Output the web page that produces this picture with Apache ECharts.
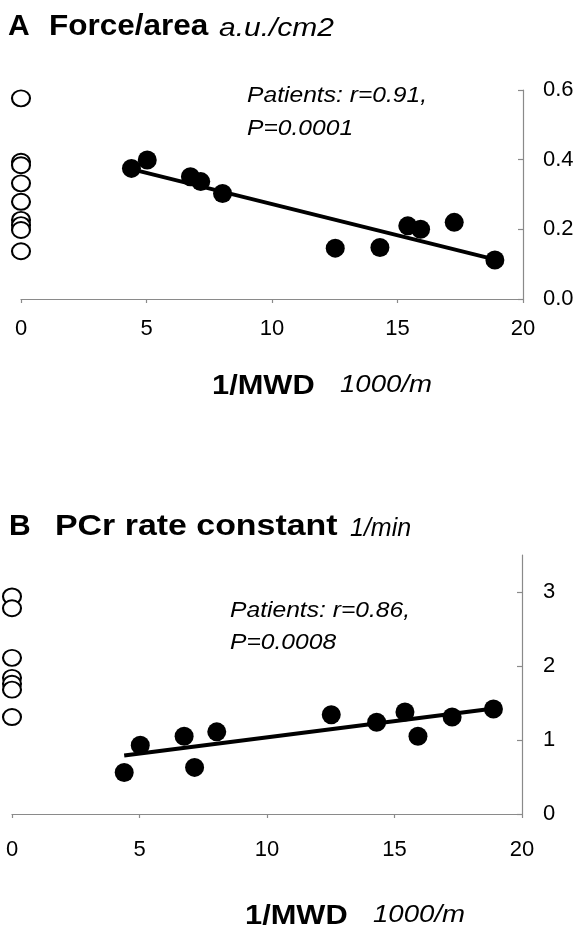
<!DOCTYPE html>
<html><head><meta charset="utf-8">
<script src="https://cdn.jsdelivr.net/npm/echarts@6/dist/echarts.min.js"></script>
<style>html,body{margin:0;padding:0;background:#fff}#c{width:582px;height:930px}</style>
</head><body><div id="c"></div>
<script>
// ---- Data ----
var xTicks = [0, 5, 10, 15, 20];
var yTicksA = [0, 0.2, 0.4, 0.6];
var yTicksB = [0, 1, 2, 3];
// Controls (plotted at x = 0)
var controlA = [0.576, 0.394, 0.384, 0.332, 0.279, 0.227, 0.212, 0.198, 0.137];
var controlB = [2.94, 2.78, 2.11, 1.84, 1.76, 1.68, 1.31];
// Patients: 1/MWD (1000/m)
var patientX = [4.4, 5.03, 6.75, 7.16, 8.03, 12.52, 14.3, 15.41, 15.92, 17.26, 18.88];
var forceArea = [0.375, 0.399, 0.351, 0.337, 0.303, 0.146, 0.148, 0.21, 0.200, 0.220, 0.112];
var pcrRate = [0.56, 0.93, 1.05, 0.63, 1.11, 1.34, 1.24, 1.38, 1.05, 1.31, 1.42];
// Regression lines (end points)
var fitAX = [4.4, 18.9], fitAY = [0.373, 0.113];
var fitBX = [4.4, 18.9], fitBY = [0.79, 1.425];

var FONT = "'Liberation Sans', Arial, sans-serif";
function zip(xs, ys) { return xs.map(function (x, i) { return [x, ys[i]]; }); }
function zeros(ys) { return ys.map(function (y) { return [0, y]; }); }

var axisLineStyle = { color: '#8a8a8a', width: 1.2 };
function xAxis(gi, margin) {
  return {
    type: 'value', gridIndex: gi, min: 0, max: 20, interval: 5,
    axisLine: { show: true, onZero: false, lineStyle: axisLineStyle },
    axisTick: { show: true, inside: false, length: 4, lineStyle: axisLineStyle },
    axisLabel: { color: '#000', fontSize: 22, fontFamily: FONT, margin: margin, customValues: xTicks },
    splitLine: { show: false }
  };
}
function yAxis(gi, max, ticks, fmt, margin) {
  return {
    type: 'value', gridIndex: gi, position: 'right', min: 0, max: max,
    axisLine: { show: true, onZero: false, lineStyle: axisLineStyle },
    axisTick: { show: true, inside: true, length: 5, lineStyle: axisLineStyle, customValues: ticks },
    axisLabel: { color: '#000', fontSize: 22, fontFamily: FONT, margin: margin, customValues: ticks, formatter: fmt },
    splitLine: { show: false }
  };
}
function txt(x, y, s, size, weight, style, sx) {
  return {
    type: 'text', x: x, y: y, scaleX: sx || 1, z: 10,
    style: {
      text: s, fill: '#000', textVerticalAlign: 'middle', textAlign: 'left',
      font: style + ' ' + weight + ' ' + size + 'px ' + FONT
    }
  };
}

var chart = echarts.init(document.getElementById('c'), null, { renderer: 'canvas' });
chart.setOption({
  animation: false,
  backgroundColor: '#fff',
  grid: [
    { left: 21, right: 59, top: 90, height: 209 },
    { left: 12, right: 60, top: 555, height: 259 }
  ],
  xAxis: [xAxis(0, 19), xAxis(1, 25)],
  yAxis: [
    yAxis(0, 0.6, yTicksA, function (v) { return v.toFixed(1); }, 20),
    yAxis(1, 3.5, yTicksB, function (v) { return String(v); }, 21)
  ],
  series: [
    { type: 'line', xAxisIndex: 0, yAxisIndex: 0, data: zip(fitAX, fitAY), symbol: 'none',
      lineStyle: { color: '#000', width: 4 }, z: 1 },
    { type: 'scatter', xAxisIndex: 0, yAxisIndex: 0, data: zeros(controlA), symbol: 'circle', symbolSize: [18, 16],
      itemStyle: { color: '#fff', borderColor: '#000', borderWidth: 2, opacity: 1 }, z: 3 },
    { type: 'scatter', xAxisIndex: 0, yAxisIndex: 0, data: zip(patientX, forceArea), symbol: 'circle', symbolSize: 19,
      itemStyle: { color: '#000', opacity: 1 }, z: 4 },
    { type: 'line', xAxisIndex: 1, yAxisIndex: 1, data: zip(fitBX, fitBY), symbol: 'none',
      lineStyle: { color: '#000', width: 4 }, z: 1 },
    { type: 'scatter', xAxisIndex: 1, yAxisIndex: 1, data: zeros(controlB), symbol: 'circle', symbolSize: [18, 16],
      itemStyle: { color: '#fff', borderColor: '#000', borderWidth: 2, opacity: 1 }, z: 3 },
    { type: 'scatter', xAxisIndex: 1, yAxisIndex: 1, data: zip(patientX, pcrRate), symbol: 'circle', symbolSize: 19,
      itemStyle: { color: '#000', opacity: 1 }, z: 4 }
  ],
  graphic: [
    txt(8, 27, 'A', 30, 'bold', 'normal', 1.0),
    txt(49, 27, 'Force/area', 30, 'bold', 'normal', 1.05),
    txt(219, 29, 'a.u./cm2', 25, 'normal', 'italic', 1.2),
    txt(247, 96, 'Patients: r=0.91,', 22, 'normal', 'italic', 1.12),
    txt(247, 129, 'P=0.0001', 22, 'normal', 'italic', 1.12),
    txt(212, 386, '1/MWD', 28, 'bold', 'normal', 1.1),
    txt(340, 386, '1000/m', 23, 'normal', 'italic', 1.2),

    txt(9, 527, 'B', 30, 'bold', 'normal', 1.0),
    txt(55, 527, 'PCr rate constant', 30, 'bold', 'normal', 1.13),
    txt(350, 529, '1/min', 25, 'normal', 'italic', 1.0),
    txt(230, 611, 'Patients: r=0.86,', 22, 'normal', 'italic', 1.12),
    txt(230, 643, 'P=0.0008', 22, 'normal', 'italic', 1.12),
    txt(245, 916, '1/MWD', 28, 'bold', 'normal', 1.1),
    txt(373, 916, '1000/m', 23, 'normal', 'italic', 1.2)
  ]
});
</script>
</body></html>
